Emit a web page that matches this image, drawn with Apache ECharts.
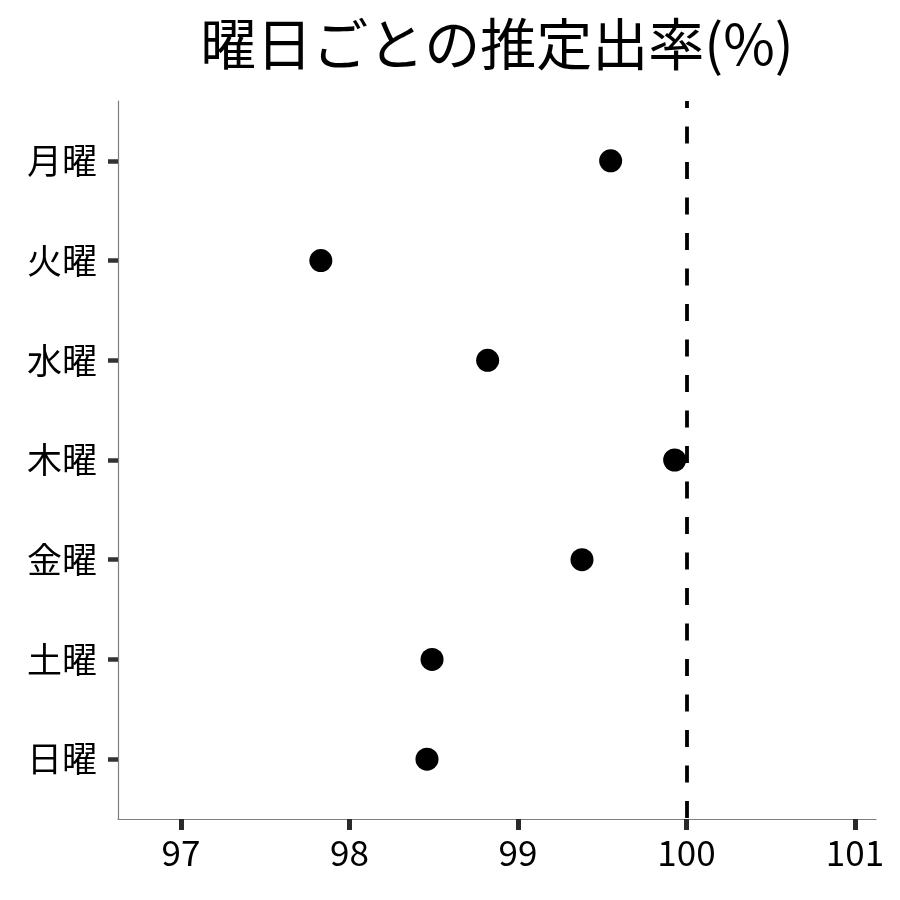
<!DOCTYPE html>
<html>
<head>
<meta charset="utf-8">
<script src="https://cdn.jsdelivr.net/npm/echarts@6/dist/echarts.min.js"></script>
<style>html,body{margin:0;padding:0;background:#fff}#c{width:900px;height:900px}</style>
</head>
<body>
<div id="c"></div>
<script>
const titleText = '曜日ごとの推定出率(%)';
const categories = ['月曜', '火曜', '水曜', '木曜', '金曜', '土曜', '日曜'];
const values = [99.55, 97.83, 98.82, 99.93, 99.38, 98.49, 98.46];
const xTicks = [97, 98, 99, 100, 101];
const refLine = 100;

const FONT = '"Noto Sans CJK JP", "Noto Sans", sans-serif';
const chart = echarts.init(document.getElementById('c'), null, {renderer: 'canvas'});
const catIdx = categories.map((_, i) => i);
chart.setOption({
  backgroundColor: '#ffffff',
  animation: false,
  graphic: [{
    type: 'text', x: 497, y: 44,
    style: {text: titleText, fontFamily: FONT, fontSize: 56, fill: '#000', textAlign: 'center', textVerticalAlign: 'middle'}
  }],
  grid: {left: 118, right: 24, top: 101, bottom: 81, containLabel: false},
  xAxis: {
    type: 'value', min: 96.626, max: 101.125,
    axisLine: {show: true, onZero: false, lineStyle: {color: '#7f7f7f', width: 1.2}},
    axisTick: {show: true, customValues: xTicks, length: 11, lineStyle: {color: '#2a2a2a', width: 5}},
    axisLabel: {customValues: xTicks, margin: 16, fontFamily: FONT, fontSize: 35, color: '#000'},
    splitLine: {show: false}
  },
  yAxis: {
    type: 'value', inverse: true, min: -0.6, max: 6.6,
    axisLine: {show: true, onZero: false, lineStyle: {color: '#7f7f7f', width: 1.2}},
    axisTick: {show: true, customValues: catIdx, length: 10, lineStyle: {color: '#333', width: 4.5}},
    axisLabel: {customValues: catIdx, margin: 21, fontFamily: FONT, fontSize: 35, color: '#000',
      formatter: v => categories[Math.round(v)] || ''},
    splitLine: {show: false}
  },
  series: [{
    type: 'scatter',
    data: values.map((v, i) => [v, i]),
    symbol: 'circle', symbolSize: 23,
    itemStyle: {color: '#000', opacity: 1},
    z: 3,
    markLine: {
      silent: true, symbol: ['none', 'none'],
      label: {show: false},
      lineStyle: {color: '#000', width: 3.8, type: [17, 18.5], dashOffset: 10},
      data: [{xAxis: refLine}]
    }
  }]
});
</script>
</body>
</html>
